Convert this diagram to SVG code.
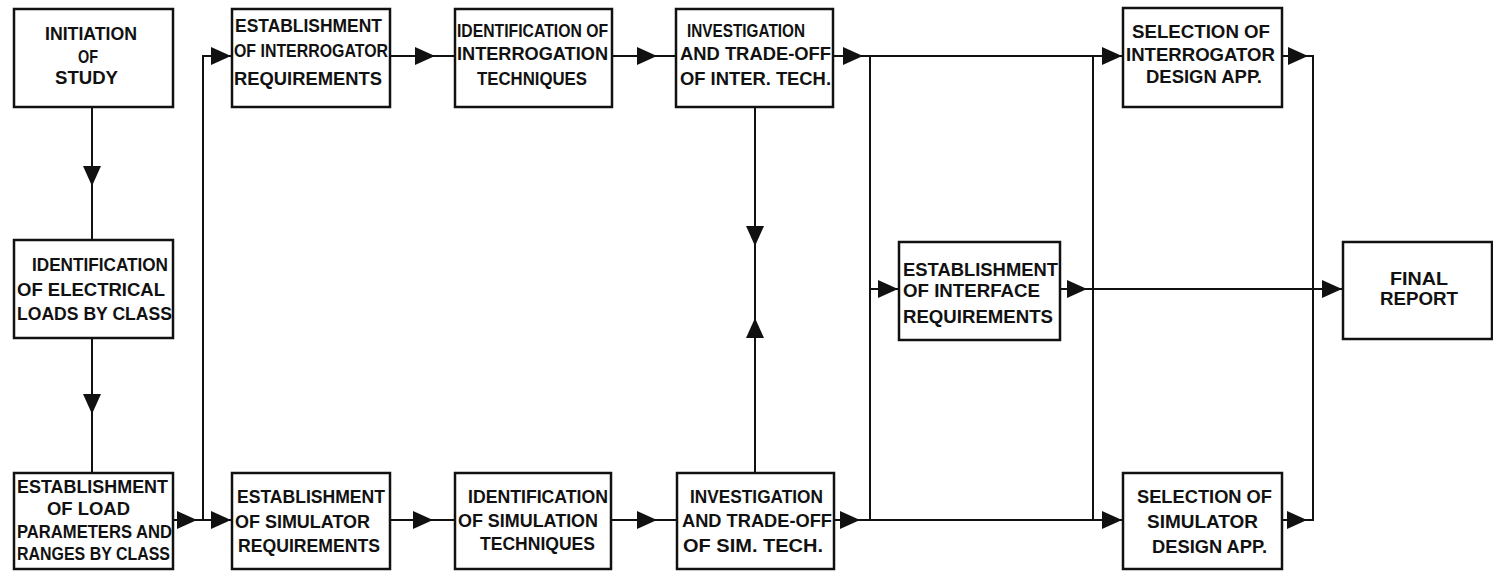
<svg xmlns="http://www.w3.org/2000/svg" width="1493" height="571" viewBox="0 0 1493 571">
<defs>
<marker id="arr" markerUnits="userSpaceOnUse" viewBox="0 0 20 18" markerWidth="20" markerHeight="18" refX="20" refY="9" orient="auto">
<path d="M0,0 L20,9 L0,18 Z" fill="#111"/>
</marker>
<style>
.box{fill:#fff;stroke:#111;stroke-width:2.5}
.ln{fill:none;stroke:#111;stroke-width:2}
.a{fill:none;stroke:#111;stroke-width:2;marker-end:url(#arr)}
text{font-family:"Liberation Sans",Arial,sans-serif;font-size:19px;font-weight:bold;fill:#111}
</style>
</defs>
<rect width="1493" height="571" fill="#fff"/>

<g id="connectors">
<path class="a" d="M92,107 V186"/><path class="ln" d="M92,186 V240"/>
<path class="a" d="M92,338 V414"/><path class="ln" d="M92,414 V473"/>
<path class="a" d="M173,520 H197"/><path class="ln" d="M197,520 H203 V55"/>
<path class="a" d="M203,56 H231"/>
<path class="a" d="M203,520 H231"/>
<path class="a" d="M390,56 H435"/><path class="ln" d="M435,56 H455"/>
<path class="a" d="M612,56 H657"/><path class="ln" d="M657,56 H676"/>
<path class="a" d="M833,56 H863"/><path class="a" d="M863,56 H1122"/>
<path class="ln" d="M870,56 V520"/>
<path class="ln" d="M1093,56 V520"/>
<path class="a" d="M390,520 H433"/><path class="ln" d="M433,520 H455"/>
<path class="a" d="M611,520 H657"/><path class="ln" d="M657,520 H677"/>
<path class="a" d="M834,520 H860"/><path class="a" d="M860,520 H1122"/>
<path class="a" d="M870,289 H898"/>
<path class="a" d="M1060,289 H1087"/><path class="a" d="M1087,289 H1342"/>
<path class="a" d="M1282,56 H1308"/><path class="ln" d="M1308,56 H1313 V520 H1307"/>
<path class="a" d="M1282,520 H1307"/>
<path class="a" d="M755,107 V246"/><path class="ln" d="M755,246 V318"/>
<path class="a" d="M755,473 V318"/>
</g>

<g id="initiation">
<rect class="box" x="14" y="9" width="159" height="98"/>
<text x="45" y="40" textLength="92" lengthAdjust="spacingAndGlyphs">INITIATION</text>
<text x="78" y="63" textLength="20" lengthAdjust="spacingAndGlyphs">OF</text>
<text x="55" y="84" textLength="63" lengthAdjust="spacingAndGlyphs">STUDY</text>
</g>

<g id="identification-loads">
<rect class="box" x="14" y="240" width="159" height="98"/>
<text x="32" y="271" textLength="136" lengthAdjust="spacingAndGlyphs">IDENTIFICATION</text>
<text x="17" y="296" textLength="148" lengthAdjust="spacingAndGlyphs">OF ELECTRICAL</text>
<text x="17" y="320" textLength="155" lengthAdjust="spacingAndGlyphs">LOADS BY CLASS</text>
</g>

<g id="establishment-load">
<rect class="box" x="14" y="473" width="159" height="96"/>
<text x="17" y="493" textLength="151" lengthAdjust="spacingAndGlyphs">ESTABLISHMENT</text>
<text x="47" y="515" textLength="83" lengthAdjust="spacingAndGlyphs">OF  LOAD</text>
<text x="17" y="538" textLength="155" lengthAdjust="spacingAndGlyphs">PARAMETERS AND</text>
<text x="17" y="560" textLength="153" lengthAdjust="spacingAndGlyphs">RANGES BY CLASS</text>
</g>

<g id="establishment-interrogator">
<rect class="box" x="232" y="9" width="158" height="98"/>
<text x="235" y="32" textLength="147" lengthAdjust="spacingAndGlyphs">ESTABLISHMENT</text>
<text x="234" y="57" textLength="154" lengthAdjust="spacingAndGlyphs">OF INTERROGATOR</text>
<text x="234" y="85" textLength="148" lengthAdjust="spacingAndGlyphs">REQUIREMENTS</text>
</g>

<g id="identification-interrogation">
<rect class="box" x="455" y="9" width="157" height="98"/>
<text x="457" y="37" textLength="151" lengthAdjust="spacingAndGlyphs">IDENTIFICATION OF</text>
<text x="457" y="60" textLength="151" lengthAdjust="spacingAndGlyphs">INTERROGATION</text>
<text x="477" y="85" textLength="110" lengthAdjust="spacingAndGlyphs">TECHNIQUES</text>
</g>

<g id="investigation-inter">
<rect class="box" x="676" y="9" width="157" height="98"/>
<text x="687" y="37" textLength="118" lengthAdjust="spacingAndGlyphs">INVESTIGATION</text>
<text x="680" y="60" textLength="151" lengthAdjust="spacingAndGlyphs">AND TRADE-OFF</text>
<text x="680" y="85" textLength="151" lengthAdjust="spacingAndGlyphs">OF INTER. TECH.</text>
</g>

<g id="selection-interrogator">
<rect class="box" x="1123" y="8" width="159" height="99"/>
<text x="1132" y="38" textLength="138" lengthAdjust="spacingAndGlyphs">SELECTION OF</text>
<text x="1126" y="61" textLength="149" lengthAdjust="spacingAndGlyphs">INTERROGATOR</text>
<text x="1146" y="83" textLength="116" lengthAdjust="spacingAndGlyphs">DESIGN APP.</text>
</g>

<g id="establishment-simulator">
<rect class="box" x="232" y="473" width="158" height="96"/>
<text x="237" y="503" textLength="148" lengthAdjust="spacingAndGlyphs">ESTABLISHMENT</text>
<text x="235" y="528" textLength="135" lengthAdjust="spacingAndGlyphs">OF SIMULATOR</text>
<text x="238" y="552" textLength="142" lengthAdjust="spacingAndGlyphs">REQUIREMENTS</text>
</g>

<g id="identification-simulation">
<rect class="box" x="455" y="473" width="156" height="96"/>
<text x="468" y="503" textLength="140" lengthAdjust="spacingAndGlyphs">IDENTIFICATION</text>
<text x="458" y="527" textLength="140" lengthAdjust="spacingAndGlyphs">OF SIMULATION</text>
<text x="480" y="550" textLength="115" lengthAdjust="spacingAndGlyphs">TECHNIQUES</text>
</g>

<g id="investigation-sim">
<rect class="box" x="677" y="473" width="157" height="96"/>
<text x="690" y="503" textLength="133" lengthAdjust="spacingAndGlyphs">INVESTIGATION</text>
<text x="682" y="527" textLength="150" lengthAdjust="spacingAndGlyphs">AND TRADE-OFF</text>
<text x="683" y="552" textLength="140" lengthAdjust="spacingAndGlyphs">OF SIM. TECH.</text>
</g>

<g id="selection-simulator">
<rect class="box" x="1123" y="473" width="159" height="96"/>
<text x="1137" y="503" textLength="135" lengthAdjust="spacingAndGlyphs">SELECTION OF</text>
<text x="1147" y="528" textLength="111" lengthAdjust="spacingAndGlyphs">SIMULATOR</text>
<text x="1152" y="553" textLength="115" lengthAdjust="spacingAndGlyphs">DESIGN APP.</text>
</g>

<g id="establishment-interface">
<rect class="box" x="899" y="242" width="161" height="98"/>
<text x="903" y="276" textLength="155" lengthAdjust="spacingAndGlyphs">ESTABLISHMENT</text>
<text x="903" y="297" textLength="137" lengthAdjust="spacingAndGlyphs">OF INTERFACE</text>
<text x="903" y="323" textLength="150" lengthAdjust="spacingAndGlyphs">REQUIREMENTS</text>
</g>

<g id="final-report">
<rect class="box" x="1343" y="242" width="149" height="97"/>
<text x="1390" y="285" textLength="58" lengthAdjust="spacingAndGlyphs">FINAL</text>
<text x="1380" y="305" textLength="78" lengthAdjust="spacingAndGlyphs">REPORT</text>
</g>
</svg>
